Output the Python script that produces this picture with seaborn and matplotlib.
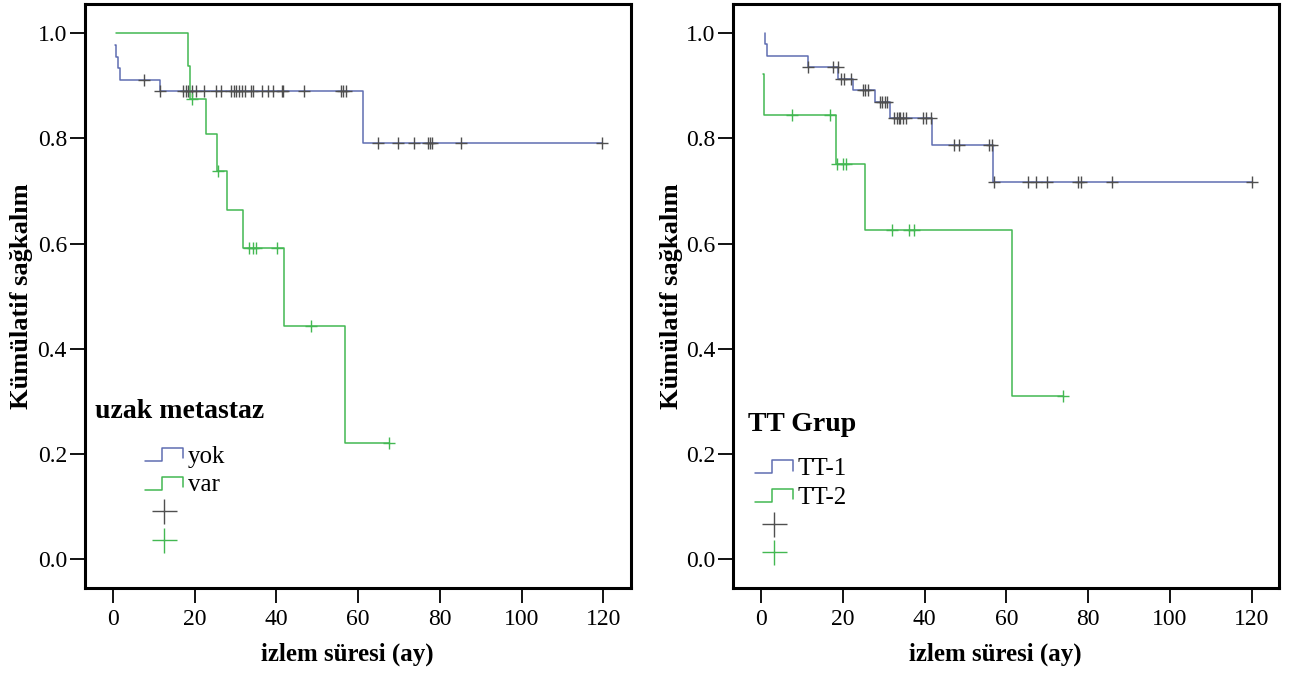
import numpy as np
import matplotlib
matplotlib.use("Agg")
import matplotlib.pyplot as plt
import seaborn as sns
from matplotlib.lines import Line2D
from matplotlib.legend_handler import HandlerBase

# ---------------- data ----------------
# Left panel: uzak metastaz
yok_times = [0.6, 0.8, 1.2, 1.7, 11.5, 61.2]
yok_surv = [0.977, 0.955, 0.934, 0.912, 0.890, 0.792]
yok_end = 119.6
yok_censor = [7.7, 11.5, 17.2, 17.8, 18.4, 19.3, 20.3, 22.3, 25.2, 26.4, 29.0, 29.7,
              30.2, 30.9, 31.7, 32.3, 33.8, 34.2, 36.5, 37.9, 39.1, 41.4, 41.7, 46.8,
              55.9, 56.4, 57.1, 64.8, 69.7, 73.7, 77.0, 77.6, 78.2, 85.3, 119.6]

var_times = [0.7, 18.4, 19.0, 22.7, 25.4, 27.9, 31.9, 41.9, 56.7]
var_surv = [1.0, 0.938, 0.875, 0.808, 0.738, 0.664, 0.592, 0.443, 0.221]
var_end = 67.5
var_censor = [19.3, 25.7, 33.3, 34.2, 35.1, 40.1, 48.5, 67.5]

# Right panel: TT Grup
tt1_times = [0.9, 1.0, 1.5, 11.4, 18.9, 22.6, 27.9, 31.6, 41.8, 56.7]
tt1_surv = [1.0, 0.980, 0.957, 0.936, 0.914, 0.892, 0.870, 0.839, 0.788, 0.717]
tt1_end = 120.0
tt1_censor = [11.4, 17.5, 18.7, 19.5, 20.3, 22.1, 25.0, 25.5, 26.1, 29.0, 29.6, 30.2,
              30.9, 32.5, 33.3, 33.7, 34.1, 34.6, 35.4, 39.5, 40.3, 41.5, 47.1, 48.5,
              55.8, 56.6, 56.9, 65.3, 67.3, 70.0, 77.6, 78.2, 85.9, 120.0]

tt2_times = [0.5, 0.6, 18.3, 25.4, 61.3]
tt2_surv = [0.922, 0.845, 0.751, 0.626, 0.311]
tt2_end = 73.9
tt2_censor = [7.5, 16.9, 18.5, 20.1, 20.8, 32.0, 36.2, 37.5, 73.9]

x_ticks = [0, 20, 40, 60, 80, 100, 120]
y_ticks = [0.0, 0.2, 0.4, 0.6, 0.8, 1.0]

# ---------------- style ----------------
sns.set_style("white")
plt.rcParams["font.family"] = ["Liberation Serif", "DejaVu Serif"]
plt.rcParams["text.color"] = "black"
plt.rcParams["axes.labelcolor"] = "black"
plt.rcParams["xtick.color"] = "black"
plt.rcParams["ytick.color"] = "black"

BLUE = "#5f6db2"
GREEN = "#43b852"
GRAY = "#4f4f4f"


def step_xy(times, surv, end):
    return list(times) + [end], list(surv) + [surv[-1]]


def surv_at(times, surv, pts):
    idx = np.searchsorted(np.asarray(times), np.asarray(pts), side="right") - 1
    idx = np.clip(idx, 0, len(surv) - 1)
    return np.asarray(surv)[idx]


class StepHandler(HandlerBase):
    def create_artists(self, legend, orig_handle, xdescent, ydescent, width, height,
                       fontsize, trans):
        x0 = -xdescent
        y0 = -ydescent
        lo = y0 + 0.1 * height
        hi = y0 + 0.85 * height
        xs = [x0, x0 + 0.45 * width, x0 + 0.45 * width, x0 + width, x0 + width]
        ys = [lo, lo, hi, hi, lo + 0.15 * height]
        ln = Line2D(xs, ys, color=orig_handle.get_color(), lw=1.1, transform=trans)
        return [ln]


fig = plt.figure(figsize=(12.95, 6.8), dpi=100)
ax1 = fig.add_axes([85 / 1295, 1 - 588.3 / 680, 545.7 / 1295, 584.3 / 680])
ax2 = fig.add_axes([733.3 / 1295, 1 - 588.3 / 680, 545.7 / 1295, 584.3 / 680])

panels = [
    (ax1, [(yok_times, yok_surv, yok_end, yok_censor, BLUE, GRAY),
           (var_times, var_surv, var_end, var_censor, GREEN, GREEN)],
     "uzak metastaz", ["yok", "var"], (0.018, 0.302), (0.11, 0.245), -0.095),
    (ax2, [(tt1_times, tt1_surv, tt1_end, tt1_censor, BLUE, GRAY),
           (tt2_times, tt2_surv, tt2_end, tt2_censor, GREEN, GREEN)],
     "TT Grup", ["TT-1", "TT-2"], (0.027, 0.28), (0.04, 0.224), -0.092),
]

for ax, series, title, labels, tpos, lpos, ylx in panels:
    for times, surv, end, cens, lc, cc in series:
        xs, ys = step_xy(times, surv, end)
        sns.lineplot(x=xs, y=ys, ax=ax, color=lc, lw=1.1, drawstyle="steps-post",
                     estimator=None, sort=False)
        cy = surv_at(times, surv, cens)
        sns.scatterplot(x=cens, y=cy, ax=ax, marker="+", s=75, color=cc,
                        linewidth=1.0, zorder=3)

    ax.set_xlim(-6.8, 126.7)
    ax.set_ylim(-0.0553, 1.0557)
    ax.set_xticks(x_ticks)
    ax.set_yticks(y_ticks)
    ax.set_xticklabels([str(v) for v in x_ticks])
    ax.set_yticklabels([f"{v:.1f}" for v in y_ticks])
    ax.tick_params(axis="both", direction="out", length=11, width=1.3,
                   labelsize=17, colors="black", bottom=True, left=True)
    ax.tick_params(axis="x", pad=4)
    ax.tick_params(axis="y", pad=2)
    for sp in ax.spines.values():
        sp.set_visible(True)
        sp.set_linewidth(2.2)
        sp.set_color("black")
    ax.set_xlabel("izlem süresi (ay)", fontsize=18, fontweight="bold", color="black")
    ax.set_ylabel("Kümülatif sağkalım", fontsize=19, fontweight="bold", color="black")
    ax.xaxis.set_label_coords(0.48, -0.093)
    ax.yaxis.set_label_coords(ylx, 0.5)

    ax.text(tpos[0], tpos[1], title, transform=ax.transAxes, fontsize=20,
            fontweight="bold", ha="left", va="center", color="black")

    h1 = Line2D([], [], color=BLUE)
    h2 = Line2D([], [], color=GREEN)
    h3 = Line2D([], [], color=GRAY, marker="+", linestyle="none", markersize=18,
                markeredgewidth=1.0)
    h4 = Line2D([], [], color=GREEN, marker="+", linestyle="none", markersize=18,
                markeredgewidth=1.0)
    leg = ax.legend([h1, h2, h3, h4], [labels[0], labels[1], "", ""],
                    handler_map={h1: StepHandler(), h2: StepHandler()},
                    loc="upper left", bbox_to_anchor=lpos, frameon=False, fontsize=18,
                    borderpad=0, borderaxespad=0, handlelength=1.5, handletextpad=0.2,
                    labelspacing=0.25)
    for t in leg.get_texts():
        t.set_color("black")

fig.savefig("out.png", dpi=100)
